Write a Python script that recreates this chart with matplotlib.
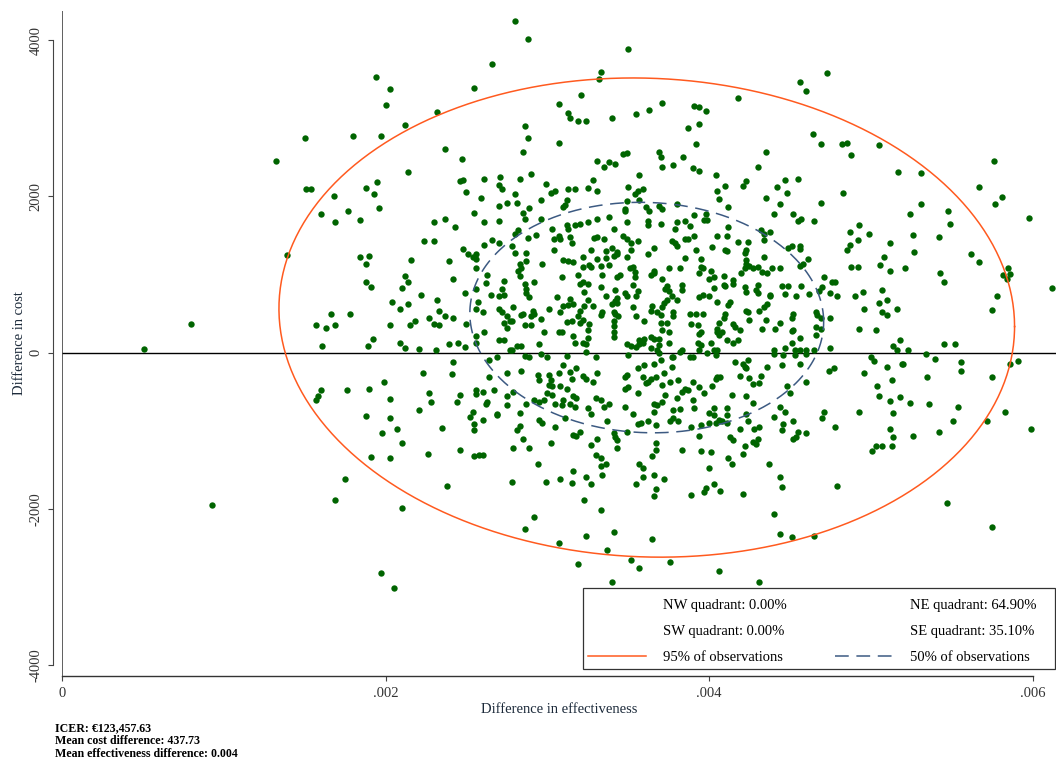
import numpy as np
import matplotlib
matplotlib.use("Agg")
import matplotlib.pyplot as plt
from matplotlib.lines import Line2D
from matplotlib.patches import Rectangle

# ---------------- data ----------------
# Effectiveness differences are listed in thousandths (x 1e-3); cost differences in euro.
EFF_UNIT = 1e-3

# left part of the cloud (upper)
eff_a = [1.94, 2.03, 2.00, 2.55, 2.32, 2.12, 1.50, 1.80, 1.97, 1.32, 2.37, 2.47, 2.14, 1.51, 1.54, 1.95, 1.88, 1.93,
         1.68, 2.46, 2.48, 2.50, 1.60, 1.77, 1.96, 1.69, 1.84, 2.55, 2.30, 2.37, 2.43, 2.24, 2.30, 1.39, 1.84, 1.90,
         1.88, 2.16, 2.39, 2.48, 2.51, 2.54, 2.56, 2.56, 2.56, 2.12, 2.14, 2.10, 1.88, 1.91, 2.42, 2.56, 2.49, 2.22,
         2.04, 2.14, 2.09, 2.32, 2.33, 2.37, 2.42, 2.27, 2.57, 2.56, 1.66, 1.78, 0.80, 1.57, 1.63, 1.69, 2.03, 2.15,
         2.18, 2.30, 2.33, 2.50, 2.56, 0.51, 1.61, 1.92, 1.89, 2.09, 2.12, 2.21, 2.31, 2.39, 2.45, 2.49, 2.56]
cost_a = [3530, 3380, 3170, 3390, 3080, 2910, 2750, 2770, 2770, 2450, 2610, 2480, 2310, 2100, 2100, 2190, 2110, 2030,
          2000, 2200, 2210, 2060, 1780, 1810, 1850, 1670, 1700, 1790, 1670, 1710, 1610, 1430, 1430, 1250, 1220, 1240,
          1140, 1190, 1180, 1330, 1270, 1220, 1260, 1200, 1080, 980, 910, 830, 910, 840, 950, 820, 760, 740,
          650, 630, 560, 670, 530, 470, 440, 440, 650, 560, 490, 490, 370, 360, 320, 360, 360, 360,
          400, 370, 350, 370, 210, 50, 80, 180, 80, 120, 60, 50, 30, 110, 120, 70, 120]

# left part of the cloud (lower)
eff_b = [2.42, 2.23, 2.41, 1.60, 1.58, 1.57, 1.76, 1.90, 1.99, 2.03, 2.27, 2.28, 2.46, 2.44, 2.56, 2.56, 2.21, 2.54,
         2.52, 2.55, 2.55, 1.88, 2.03, 1.98, 2.07, 2.35, 2.10, 1.91, 2.03, 2.26, 2.46, 2.55, 2.58, 1.75, 1.69, 0.93,
         2.38, 2.10, 1.97, 2.05]
cost_b = [-115, -260, -270, -480, -550, -605, -480, -470, -370, -590, -520, -630, -540, -630, -480, -530, -730, -760,
          -820, -910, -990, -810, -830, -1030, -970, -960, -1150, -1330, -1350, -1290, -1250, -1320, -1310, -1610, -1880, -1950,
          -1700, -1990, -2820, -3010]

# centre of the cloud (upper)
eff_c = [2.80, 2.88, 2.66, 3.50, 3.33, 3.32, 4.73, 4.56, 4.60, 3.21, 3.07, 3.13, 3.14, 3.19, 3.24, 3.40, 3.55, 3.63,
         3.71, 3.91, 3.94, 3.98, 4.18, 3.94, 3.87, 3.92, 4.64, 4.69, 2.86, 2.88, 2.85, 3.07, 3.31, 3.35, 3.38, 3.42,
         3.47, 3.49, 3.69, 3.70, 3.71, 3.78, 3.84, 3.90, 3.94, 4.35, 4.30, 2.90, 2.61, 2.71, 2.70, 2.72, 2.83, 3.57,
         4.04, 4.55, 4.47, 4.42, 4.48, 4.10, 4.05, 4.23, 4.21, 2.99, 3.02, 3.05, 3.13, 3.17, 3.25, 3.28, 3.31, 3.50,
         3.54, 3.56, 3.59, 3.57, 2.59, 2.80, 2.81, 2.75, 2.70, 2.89, 2.85, 2.86, 2.96, 3.12, 3.11, 3.10, 3.49, 3.48,
         3.48, 3.61, 3.63, 3.69, 3.71, 3.80, 3.91, 3.98, 3.97, 3.99, 4.12, 4.06, 4.35, 4.44, 4.69, 4.40, 4.52, 4.57,
         4.55, 4.65, 2.61, 2.70, 2.96, 3.12, 3.17, 3.20, 3.25, 3.31, 3.38, 3.49, 3.62, 3.62, 3.70, 3.80, 3.79, 3.85,
         3.88, 4.12, 4.32, 4.34, 4.38, 2.80, 2.82, 2.93, 3.03, 3.04, 3.07, 3.08, 3.13, 3.14, 3.15, 2.61, 2.66, 2.70,
         2.78, 2.80, 2.88, 3.04, 3.27, 3.29, 3.31, 3.35, 3.41, 3.47, 3.49, 3.52, 3.52, 3.36, 3.40, 3.43, 3.56, 3.66,
         3.62, 3.77, 3.79, 3.80, 3.85, 3.87, 3.91, 3.92, 4.05, 4.11, 4.02, 4.10, 4.11, 4.18, 4.24, 4.23, 4.22, 4.34,
         4.49, 4.51, 4.56, 4.56, 4.61, 4.58, 4.56, 4.71, 2.83, 2.84, 2.82, 2.83, 2.87, 2.87, 2.97, 3.10, 3.13, 3.16,
         3.22, 3.22, 3.27, 3.26, 3.09, 3.19, 3.31, 3.33, 3.34, 3.36, 3.38, 3.41, 3.43, 3.43, 3.45, 3.49, 3.51, 3.53,
         3.54, 3.54, 3.66, 3.64, 3.66, 3.71, 3.75, 3.82, 3.85, 3.95, 3.95, 3.96, 3.94, 4.01, 4.00, 4.03, 4.09, 4.10,
         4.15, 4.15, 4.20, 4.22, 4.23, 4.23, 4.25, 4.27, 4.30, 4.33, 4.36, 4.34, 4.39, 4.44, 4.49, 4.57, 4.54, 4.62,
         4.68, 4.70, 4.66, 4.67, 4.69, 4.66, 4.69, 4.66, 4.65, 4.60, 4.56]
cost_c = [4250, 4020, 3700, 3890, 3590, 3500, 3580, 3470, 3350, 3300, 3180, 3070, 3010, 2970, 2970, 3010, 3060, 3110,
          3200, 3160, 3150, 3100, 3260, 2930, 2880, 2670, 2800, 2670, 2900, 2750, 2570, 2680, 2460, 2380, 2440, 2420,
          2550, 2560, 2570, 2510, 2380, 2400, 2500, 2370, 2320, 2570, 2380, 2290, 2230, 2250, 2150, 2100, 2230, 2270,
          2270, 2230, 2210, 2120, 2040, 2130, 2070, 2200, 2140, 2160, 2050, 2070, 2100, 2090, 2110, 2210, 2070, 2120,
          2030, 2070, 2100, 1950, 1980, 2030, 1920, 1920, 1880, 1850, 1790, 1710, 1960, 1960, 1890, 1870, 1940, 1840,
          1810, 1870, 1820, 1880, 1840, 1900, 1760, 1780, 1700, 1700, 1860, 1970, 1980, 1900, 1920, 1770, 1770, 1710,
          1690, 1680, 1670, 1680, 1710, 1630, 1630, 1650, 1670, 1710, 1740, 1670, 1690, 1630, 1650, 1670, 1590, 1690,
          1620, 1610, 1570, 1520, 1550, 1520, 1570, 1510, 1590, 1460, 1490, 1450, 1580, 1480, 1400, 1380, 1440, 1400,
          1370, 1280, 1470, 1310, 1310, 1470, 1480, 1450, 1590, 1490, 1450, 1400, 1320, 1300, 1340, 1290, 1430, 1340,
          1260, 1430, 1400, 1370, 1450, 1460, 1500, 1310, 1500, 1500, 1350, 1320, 1300, 1420, 1420, 1320, 1280, 1440,
          1340, 1370, 1370, 1330, 1200, 1140, 1110, 970, 1130, 1090, 1040, 980, 1280, 1180, 1140, 1190, 1170, 1160,
          1220, 1100, 1100, 1120, 970, 990, 1200, 1110, 990, 1210, 1120, 1240, 1260, 970, 990, 1230, 1080, 1100,
          970, 1030, 1020, 990, 1040, 950, 1080, 1080, 1210, 1200, 1100, 1080, 1020, 1050, 950, 970, 980, 860,
          930, 880, 1020, 1080, 1140, 1190, 1110, 1080, 1100, 1030, 1020, 1220, 1090, 1090, 860, 860, 720, 750,
          790, 840, 520, 480, 450, 330, 310, 230, 30, 30, 30]

# centre of the cloud (just above zero)
eff_d = [2.73, 2.72, 2.73, 2.70, 2.65, 2.79, 2.70, 2.72, 2.75, 2.78, 2.77, 2.73, 2.75, 2.61, 2.70, 2.73, 2.77, 2.81,
         2.84, 2.86, 2.87, 2.87, 2.89, 2.92, 2.85, 2.84, 2.91, 2.92, 2.90, 2.86, 2.90, 2.96, 2.98, 2.95, 3.01, 3.06,
         3.08, 3.10, 3.13, 3.14, 3.16, 3.12, 3.15, 3.19, 3.20, 3.07, 3.09, 3.16, 3.17, 3.23, 3.25, 3.28, 3.23, 3.20,
         3.22, 3.25, 3.26, 3.25, 3.25, 3.22, 3.24, 3.22, 3.20, 3.33, 3.36, 3.34, 3.33, 3.40, 3.42, 3.43, 3.43, 3.42,
         3.41, 3.42, 3.44, 3.41, 3.41, 3.41, 3.41, 3.48, 3.49, 3.53, 3.55, 3.56, 3.53, 3.55, 3.49, 3.52, 3.55, 3.59,
         3.60, 3.64, 3.66, 3.69, 3.69, 3.68, 3.64, 3.57, 3.57, 3.60, 3.64, 3.65, 3.68, 3.70, 3.71, 3.72, 3.74, 3.73,
         3.75, 3.74, 3.77, 3.70, 3.71, 3.74, 3.75, 3.78, 3.78, 3.80, 3.83, 3.83, 3.89, 3.93, 3.95, 3.94, 3.95, 3.88,
         3.92, 3.96, 3.94, 3.96, 4.00, 4.03, 4.05, 4.09, 4.10, 4.09, 4.12, 4.13, 4.06, 4.05, 4.05, 4.06, 4.08, 4.15,
         4.16, 4.19, 4.01, 4.03, 4.05, 4.11, 4.15, 4.18, 4.22, 4.23, 4.23, 4.24, 4.25, 4.30, 4.29, 4.30, 4.31, 4.34,
         4.36, 4.38, 4.38, 4.35, 4.33, 4.44, 4.41, 4.45, 4.47, 4.52, 4.51, 4.51, 4.52, 4.40, 4.47, 4.53, 4.51, 4.56,
         3.83, 3.93, 3.94, 3.75, 2.62, 2.63, 2.60]
cost_d = [920, 820, 740, 730, 740, 590, 560, 520, 470, 410, 400, 380, 320, 270, 160, 160, 40, 80,
          80, 880, 810, 770, 710, 910, 500, 480, 540, 500, 470, 360, 350, 430, 260, 110, 560, 710,
          520, 600, 610, 690, 630, 390, 400, 470, 530, 260, 260, 210, 120, 780, 680, 600, 600, 880,
          900, 880, 370, 290, 190, 130, 110, 420, 380, 840, 730, 520, 480, 620, 660, 700, 640, 800,
          520, 500, 470, 400, 340, 260, 200, 770, 730, 870, 720, 790, 580, 470, 110, 90, 70, 120,
          180, 200, 180, 170, 100, 30, 60, 160, 110, 400, 530, 600, 520, 480, 580, 640, 680, 820,
          790, 850, 720, 380, 290, 380, 260, 470, 520, 670, 800, 870, 370, 350, 270, 240, 100, 500,
          500, 500, 710, 740, 730, 830, 650, 870, 500, 450, 610, 650, 380, 310, 260, 230, 260, 370,
          330, 290, 120, 30, 30, 160, 120, 160, 840, 780, 540, 520, 420, 870, 800, 770, 530, 580,
          630, 720, 740, 420, 310, 380, 300, 860, 750, 500, 450, 280, 290, 30, 60, 30, 120, 190,
          30, 120, 30, 120, 890, 990, 520]

# centre of the cloud (below zero)
eff_e = [2.64, 2.69, 2.75, 2.64, 2.84, 2.94, 2.95, 3.01, 3.02, 3.01, 3.03, 3.07, 3.10, 3.14, 3.18, 3.15, 3.22, 3.24,
         3.28, 3.31, 3.08, 3.12, 3.00, 3.03, 3.05, 2.98, 2.95, 2.79, 2.75, 2.75, 2.69, 2.63, 2.62, 2.60, 2.67, 2.60,
         2.83, 2.87, 2.92, 3.09, 3.10, 3.14, 3.16, 3.18, 3.17, 3.25, 3.27, 3.30, 3.33, 3.35, 3.38, 3.11, 3.05, 2.95,
         2.97, 2.83, 2.81, 2.69, 3.37, 3.41, 3.42, 3.43, 3.43, 3.49, 3.48, 3.49, 3.50, 3.48, 3.56, 3.60, 3.66, 3.59,
         3.62, 3.64, 3.67, 3.61, 3.70, 3.71, 3.72, 3.77, 3.77, 3.56, 3.48, 3.53, 3.66, 3.68, 3.71, 3.73, 3.80, 3.76,
         3.81, 3.83, 3.85, 3.87, 3.90, 3.94, 3.97, 3.90, 3.91, 3.78, 3.82, 3.78, 3.81, 3.76, 3.66, 3.67, 3.58, 3.62,
         3.56, 3.67, 3.67, 3.65, 3.57, 3.59, 3.59, 3.55, 3.66, 3.72, 3.67, 3.66, 3.83, 3.94, 3.89, 3.95, 4.00, 4.04,
         4.03, 4.03, 4.00, 4.06, 4.08, 4.11, 4.11, 4.11, 3.95, 4.01, 4.00, 3.98, 3.97, 4.03, 4.07, 3.89, 4.02, 4.05,
         4.07, 4.04, 4.14, 4.19, 4.22, 4.25, 4.27, 4.31, 4.32, 4.23, 4.27, 4.16, 4.21, 4.24, 4.23, 4.36, 4.40, 4.45,
         4.46, 4.56, 4.53, 4.60, 4.48, 4.50, 4.60, 4.44, 4.47, 4.40, 4.46, 4.45, 4.52, 4.55, 4.52, 4.54, 4.60, 4.71,
         4.70, 4.74, 4.23, 4.24, 4.19, 4.28, 4.31, 4.27, 4.29, 4.30, 4.22, 4.21, 4.12, 4.14, 4.13, 4.15, 4.37, 4.44,
         4.45, 4.21, 4.40, 4.44, 4.51, 4.65, 4.31, 4.06, 3.76, 3.65, 3.52, 3.57, 3.40, 3.37, 3.41, 3.24, 3.19, 3.07,
         3.33, 3.23, 2.92, 2.86, 2.78, 2.99, 3.08, 3.15, 3.24, 3.27, 3.16, 3.34, 2.94, 2.79, 2.89, 3.02, 3.16, 3.18,
         3.20, 3.27, 3.31, 3.30, 3.33, 3.33, 3.36, 2.85, 2.60, 2.78, 2.86, 2.89, 2.96, 3.00, 3.12, 3.24, 3.30, 3.50,
         3.69, 3.78, 3.82, 3.88, 3.90, 3.99, 4.04]
cost_e = [-90, -50, -260, -310, -230, -290, -350, -290, -350, -410, -430, -260, -160, -250, -190, -340, -300, -340,
          -370, -260, -430, -460, -520, -540, -650, -610, -630, -500, -560, -670, -780, -630, -650, -500, -480, -860,
          -770, -650, -600, -670, -600, -660, -560, -580, -690, -710, -780, -580, -610, -700, -650, -840, -950, -860,
          -900, -940, -990, -800, -870, -1030, -1080, -1120, -1220, -1010, -310, -290, -440, -470, -190, -160, -150, -310,
          -370, -330, -310, -390, -90, -410, -260, -180, -50, -520, -700, -780, -650, -670, -630, -540, -580, -370,
          -350, -500, -460, -480, -370, -440, -510, -610, -710, -730, -720, -840, -880, -880, -760, -930, -900, -870,
          -910, -1160, -1240, -1320, -1420, -1480, -1590, -1680, -1570, -1620, -1740, -1840, -1240, -1070, -950, -930, -900, -900,
          -800, -710, -770, -860, -880, -710, -800, -900, -1260, -1270, -1480, -1730, -1780, -1680, -1770, -1820, -430, -310,
          -310, -340, -540, -300, -180, -320, -400, -390, -300, -560, -640, -120, -140, -90, -200, -180, -20, -160,
          -30, -140, -30, -10, -430, -510, -380, -690, -760, -820, -910, -990, -880, -1010, -1100, -1080, -1030, -760,
          -840, -230, -780, -880, -970, -980, -950, -1140, -1170, -1110, -1200, -1300, -1350, -1420, -1080, -1120, -1420, -1590,
          -1720, -1810, -2060, -2320, -2360, -2350, -2930, -2800, -2680, -2390, -2650, -2750, -2940, -2530, -2290, -2340, -2700, -2440,
          -2010, -1880, -2100, -2260, -1660, -1660, -1620, -1670, -1590, -1680, -1510, -1560, -1420, -1220, -1220, -1160, -1050, -1070,
          -1010, -1180, -1100, -1310, -1350, -1450, -1420, -1110, -1310, 30, -40, -50, -20, -50, -40, 10, -60, -30,
          0, -50, 10, -50, -60, 0, -30]

# right part of the cloud
eff_f = [5.76, 5.31, 5.67, 5.81, 5.77, 5.31, 5.24, 5.48, 5.49, 5.98, 5.26, 5.42, 5.27, 5.62, 5.67, 5.21, 5.43, 5.45,
         5.85, 5.82, 5.84, 5.86, 6.12, 5.78, 5.75, 5.18, 5.45, 5.52, 5.23, 5.34, 5.40, 5.56, 5.56, 5.19, 5.20, 5.35,
         5.75, 5.86, 5.91, 4.82, 4.85, 4.88, 5.05, 5.17, 4.83, 4.93, 4.87, 4.99, 4.92, 4.87, 4.85, 5.12, 5.08, 5.06,
         4.88, 4.92, 5.12, 4.76, 4.78, 4.75, 4.79, 4.90, 4.95, 5.07, 5.05, 5.10, 4.96, 5.07, 5.10, 5.16, 4.75, 4.93,
         5.03, 5.14, 5.16, 4.75, 5.00, 5.02, 5.10, 4.77, 4.96, 5.13, 5.04, 5.05, 5.12, 5.18, 5.24, 5.36, 4.93, 5.14,
         5.54, 5.51, 5.72, 5.83, 5.99, 4.78, 5.12, 5.14, 5.13, 5.26, 5.42, 5.03, 5.07, 5.01, 4.79, 5.47, 5.75]
cost_f = [2450, 2300, 2120, 1990, 1910, 1910, 1780, 1810, 1650, 1720, 1510, 1480, 1290, 1270, 1160, 1080, 1020, 910,
          1080, 990, 950, 1010, 830, 730, 550, 160, 110, 110, 30, -20, -80, -120, -230, -140, -140, -310,
          -310, -140, -100, 2670, 2690, 2530, 2660, 2310, 2040, 1630, 1540, 1520, 1440, 1380, 1310, 1410, 1230, 1120,
          1100, 1100, 1050, 900, 900, 770, 730, 730, 780, 800, 640, 670, 560, 520, 480, 560, 450, 310,
          290, 80, 40, 60, -50, -110, -180, -200, -260, -350, -430, -550, -620, -570, -640, -650, -760, -770,
          -700, -870, -870, -760, -970, -950, -970, -1080, -1190, -1070, -1020, -1190, -1200, -1260, -1710, -1920, -2230]

# confidence ellipse parameters (bivariate normal fitted to the replicates)
ell_mean_eff = 0.003615
ell_mean_cost = 450.0
ell_sd_eff = 0.000929
ell_sd_cost = 1253.0
ell_rho = -0.0375
chi2_95 = 5.991
chi2_50 = 1.386

# legend / annotation texts
quadrant_labels = ["NW quadrant: 0.00%", "SW quadrant: 0.00%", "NE quadrant: 64.90%", "SE quadrant: 35.10%"]
ellipse_labels = ["95% of observations", "50% of observations"]
footer_lines = ["ICER: \u20ac123,457.63", "Mean cost difference: 437.73", "Mean effectiveness difference: 0.004"]
x_ticks = [0, 0.002, 0.004, 0.006]
x_tick_labels = ["0", ".002", ".004", ".006"]
y_ticks = [-4000, -2000, 0, 2000, 4000]
y_tick_labels = ["-4000", "-2000", "0", "2000", "4000"]

# ---------------- figure ----------------
plt.rcParams['font.family'] = ['Liberation Serif', 'DejaVu Serif']

W, H = 1056, 760
fig = plt.figure(figsize=(W / 100, H / 100), dpi=100)
ax = fig.add_axes([62 / W, 84 / H, 994 / W, 665 / H])

eff = np.concatenate([eff_a, eff_b, eff_c, eff_d, eff_e, eff_f]) * EFF_UNIT
cost = np.concatenate([cost_a, cost_b, cost_c, cost_d, cost_e, cost_f])

ax.set_xlim(0, 0.006145)
ax.set_ylim(-4138, 4374)

ax.axhline(0, color='black', lw=1.0, zorder=1)
ax.axvline(0, color='#444444', lw=1.2, zorder=1)

ax.scatter(eff, cost, s=21, color='#006400', linewidths=0, zorder=2)


def ellipse(chi2):
    t = np.linspace(0, 2 * np.pi, 400)
    k = np.sqrt(chi2)
    ex = ell_mean_eff + k * ell_sd_eff * np.cos(t)
    ey = ell_mean_cost + k * ell_sd_cost * (ell_rho * np.cos(t) + np.sqrt(1 - ell_rho ** 2) * np.sin(t))
    return ex, ey


ex95, ey95 = ellipse(chi2_95)
ex50, ey50 = ellipse(chi2_50)
l95, = ax.plot(ex95, ey95, color='#FF5A1F', lw=1.1, zorder=3)
l50, = ax.plot(ex50, ey50, color='#3C5A82', lw=1.1, zorder=3, dashes=(9, 5))

# axes styling (Stata-like)
for s in ['top', 'right']:
    ax.spines[s].set_visible(False)
ax.spines['left'].set_position(('outward', 6.5))
ax.spines['left'].set_bounds(-4000, 4000)
ax.spines['left'].set_color('#444444')
ax.spines['left'].set_linewidth(0.8)
ax.spines['bottom'].set_bounds(0, 0.006)
ax.spines['bottom'].set_color('#333333')
ax.spines['bottom'].set_linewidth(1.0)

ax.set_xticks(x_ticks)
ax.set_xticklabels(x_tick_labels)
ax.set_yticks(y_ticks)
ax.set_yticklabels(y_tick_labels, rotation=90, va='center')
ax.tick_params(axis='both', direction='out', length=3.6, width=0.8, color='#444444',
               labelsize=10.5, labelcolor='#333333', pad=4)

ax.set_xlabel("Difference in effectiveness", fontsize=10.5, color='#1c2a3a')
ax.set_ylabel("Difference in cost", fontsize=10.5, color='#1c2a3a')
ax.xaxis.set_label_coords(0.5, -0.041)
ax.yaxis.set_label_coords(-0.036, 0.5)

# legend: white box drawn separately, entries placed inside it
box = Rectangle((583 / W, 1 - 669 / H), 472 / W, 81 / H, transform=fig.transFigure,
                facecolor='white', edgecolor='#333333', linewidth=0.9, zorder=4, clip_on=False)
fig.patches.append(box)

blank = Line2D([], [], color='none')
handles = [blank, blank, l95, blank, blank, l50]
labels = [quadrant_labels[0], quadrant_labels[1], ellipse_labels[0],
          quadrant_labels[2], quadrant_labels[3], ellipse_labels[1]]
leg = fig.legend(handles, labels, ncol=2, loc='upper left',
                 bbox_to_anchor=(588 / W, 1 - 598.5 / H), bbox_transform=fig.transFigure,
                 fontsize=10.5, frameon=False, handlelength=4.0, handletextpad=1.15,
                 labelspacing=0.9, borderpad=0, borderaxespad=0, columnspacing=3.3)
leg.set_zorder(5)

for i, line in enumerate(footer_lines):
    fig.text(55 / W, 1 - (728 + 13 * i) / H, line, fontsize=8.6, fontweight='bold',
             va='center', ha='left', color='black')

fig.savefig("out.png", dpi=100)
